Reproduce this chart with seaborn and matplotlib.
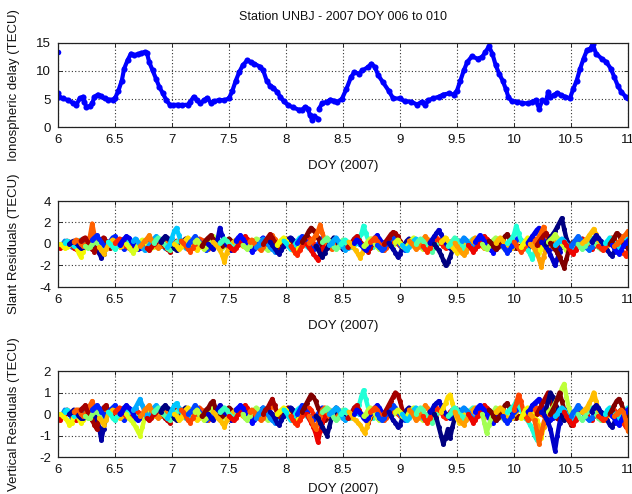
import numpy as np
import pandas as pd
import matplotlib
matplotlib.use("Agg")
import matplotlib.pyplot as plt
import seaborn as sns

# ---------------- data ----------------
TITLE = "Station UNBJ - 2007 DOY 006 to 010"
XLABEL = "DOY (2007)"
YLABELS = ["Ionospheric delay (TECU)", "Slant Residuals (TECU)", "Vertical Residuals (TECU)"]
XTICKS = [6, 6.5, 7, 7.5, 8, 8.5, 9, 9.5, 10, 10.5, 11]
XTICK_LABELS = ["6", "6.5", "7", "7.5", "8", "8.5", "9", "9.5", "10", "10.5", "11"]

# isolated first estimate
tec_first_day = [6.0]
tec_first_val = [13.4]

# ionospheric delay, first continuous stretch (DOY 6.00 - 8.28)
tec_day_a = [6.00, 6.01, 6.04, 6.09, 6.13, 6.16, 6.19, 6.22, 6.23, 6.25, 6.28, 6.30,
             6.32, 6.35, 6.38, 6.41, 6.44, 6.48, 6.50, 6.53, 6.56, 6.58, 6.61, 6.64,
             6.67, 6.70, 6.73, 6.76, 6.78, 6.80, 6.83, 6.86, 6.89, 6.92, 6.95, 6.98,
             7.01, 7.05, 7.09, 7.14, 7.16, 7.19, 7.22, 7.25, 7.28, 7.31, 7.34, 7.37,
             7.41, 7.46, 7.50, 7.53, 7.56, 7.59, 7.62, 7.66, 7.69, 7.72, 7.77, 7.80,
             7.83, 7.86, 7.89, 7.92, 7.95, 7.98, 8.02, 8.06, 8.11, 8.14, 8.17, 8.19,
             8.21, 8.23, 8.25, 8.28]
tec_val_a = [6.0, 5.4, 5.1, 4.8, 4.3, 3.9, 5.1, 5.4, 4.5, 3.6, 3.7, 4.2,
             5.4, 5.8, 5.5, 5.1, 4.9, 4.9, 5.1, 6.5, 8.3, 10.4, 11.9, 13.1,
             12.8, 13.0, 13.2, 13.4, 13.2, 11.6, 10.1, 8.6, 7.1, 6.0, 4.8, 4.0,
             3.9, 4.0, 3.9, 4.0, 4.5, 5.4, 4.8, 4.2, 4.8, 5.2, 4.3, 4.6,
             4.8, 4.8, 5.1, 6.5, 8.3, 9.8, 11.0, 11.9, 11.6, 11.3, 10.8, 10.1,
             8.3, 7.4, 7.0, 6.3, 5.4, 4.6, 3.9, 3.5, 3.1, 3.1, 3.6, 3.3,
             2.1, 1.3, 1.9, 1.5]

# ionospheric delay, second stretch (DOY 8.29 - 11.00)
tec_day_b = [8.29, 8.32, 8.36, 8.39, 8.42, 8.45, 8.49, 8.53, 8.57, 8.60, 8.64, 8.67,
             8.72, 8.75, 8.78, 8.81, 8.85, 8.90, 8.94, 9.00, 9.04, 9.10, 9.15, 9.19,
             9.22, 9.25, 9.29, 9.34, 9.38, 9.43, 9.47, 9.50, 9.53, 9.56, 9.59, 9.63,
             9.68, 9.72, 9.75, 9.78, 9.81, 9.84, 9.87, 9.90, 9.93, 9.95, 9.98, 10.03,
             10.07, 10.12, 10.16, 10.19, 10.22, 10.25, 10.28, 10.30, 10.32, 10.35, 10.38, 10.41,
             10.45, 10.49, 10.52, 10.55, 10.58, 10.61, 10.64, 10.67, 10.69, 10.72, 10.77, 10.81,
             10.85, 10.88, 10.91, 10.94, 10.98, 11.00]
tec_val_b = [3.3, 4.3, 4.5, 4.9, 4.7, 4.5, 5.0, 6.8, 8.9, 9.8, 9.5, 10.1,
             10.7, 11.3, 10.7, 9.2, 8.0, 6.5, 5.1, 5.1, 4.6, 4.5, 4.0, 4.5,
             3.9, 4.8, 5.1, 5.4, 5.8, 6.0, 5.8, 6.5, 8.3, 10.1, 11.6, 12.6,
             12.2, 12.5, 13.4, 14.4, 13.1, 11.0, 9.5, 8.3, 6.7, 5.4, 4.6, 4.5,
             4.3, 4.2, 4.5, 4.8, 3.3, 4.8, 4.5, 6.3, 5.4, 5.7, 6.1, 5.7,
             5.4, 5.1, 6.8, 8.3, 10.4, 12.2, 13.7, 14.0, 14.8, 13.1, 12.2, 11.6,
             10.4, 8.9, 7.4, 6.3, 5.4, 5.1]

# satellite arcs: start epoch (DOY) and PRN; residuals every 0.02 day
ARC_STEP = 0.02
arc_start = [5.96, 6.00, 6.02, 6.06, 6.10, 6.14, 6.20, 6.24, 6.30, 6.36,
             6.44, 6.50, 6.54, 6.60, 6.66, 6.72, 6.78, 6.84, 6.90, 6.96,
             7.02, 7.08, 7.14, 7.20, 7.26, 7.32, 7.36, 7.42, 7.50, 7.56,
             7.62, 7.68, 7.74, 7.80, 7.86, 7.92, 7.98, 8.04, 8.10, 8.14,
             8.18, 8.20, 8.26, 8.32, 8.38, 8.48, 8.54, 8.55, 8.60, 8.68,
             8.74, 8.80, 8.86, 8.90, 8.96, 9.02, 9.08, 9.14, 9.20, 9.26,
             9.30, 9.36, 9.42, 9.48, 9.54, 9.60, 9.66, 9.72, 9.78, 9.84,
             9.90, 9.94, 10.00, 10.06, 10.12, 10.14, 10.18, 10.20, 10.24, 10.28,
             10.30, 10.32, 10.36, 10.44, 10.50, 10.56, 10.60, 10.68, 10.74, 10.80,
             10.84, 10.86, 10.88]
arc_prn = [9, 29, 21, 12, 2, 26, 31, 17, 6, 23,
           13, 28, 4, 20, 10, 25, 30, 15, 1, 11,
           22, 27, 7, 19, 32, 3, 23, 14, 29, 5,
           18, 26, 9, 31, 2, 21, 12, 28, 6, 32,
           29, 26, 1, 16, 10, 13, 30, 23, 4, 19,
           27, 7, 31, 2, 20, 11, 25, 15, 28, 3,
           1, 22, 14, 24, 9, 29, 5, 18, 32, 23,
           6, 13, 27, 21, 4, 24, 26, 31, 3, 1,
           19, 32, 11, 29, 8, 16, 23, 2, 28, 12,
           32, 5, 26]

# slant residuals per arc, 0.1 TECU
slant_res = [
    [2, 1, -1, -2, 0, 3, 2, -1, -3, -2, 0, 2, 3, 1, -1],
    [-3, -4, -2, 1, 3, 2, -1, -4, -5, -3, 0, 2, 4, 3, 1, -2, -4],
    [0, -2, -4, -3, -1, 2, 1, -3, -8, -12, -7, -2, 1, 3, 2],
    [1, 3, 2, 0, -2, -1, 2, 4, 3, 1, -1, -3, -2, 0, 2],
    [0, 2, 3, 1, -2, -4, -3, 0, 3, 5, 4, 1, -3, -8, -13, -9, -3, 2],
    [2, 4, 3, 0, -2, -1, 3, 7, 19, 8, 2, -1, -3, -2, 1],
    [3, 5, 6, 2, -2, -5, -7, -3, 1, 4, 6, 3, -1, -4, -2],
    [-2, -4, -3, 0, 2, 1, -1, -3, -5, -4, -1, 2, 3, 1],
    [4, 6, 8, 5, 2, -1, -3, -1, 3, 6, 7, 4, 0, -3, -5, -2],
    [-3, -6, -9, -5, -1, 2, 4, 2, -1, -3, -2, 1, 3, 2, 0],
    [2, 0, -3, -5, -2, 1, 3, 4, 2, -1, -4, -6, -3, 0],
    [1, 3, 5, 4, 1, -2, -4, -3, 0, 3, 2, -1, -3, -2, 1],
    [-1, 2, 5, 7, 6, 3, 0, -3, -5, -4, -1, 2, 4, 5, 3, 0],
    [0, -3, -6, -8, -5, -1, 2, 4, 3, 0, -2, -4, -3, 0],
    [3, 5, 2, -1, -3, -6, -4, -1, 2, 5, 7, 5, 1, -2, -4],
    [-2, 0, 3, 5, 8, 4, 1, -2, -4, -2, 1, 3, 2, -1],
    [-4, -6, -3, 0, 2, 4, 3, 0, -3, -5, -7, -4, 0, 3],
    [1, 4, 6, 4, 1, -1, -4, -6, -4, -1, 2, 3, 1, -2, -3],
    [2, 5, 7, 6, 3, -1, -4, -6, -3, 0, 3, 5, 4, 2, -1],
    [-3, 0, 6, 12, 15, 8, 2, -2, -4, -3, 0, 2, 1, -1],
    [0, -2, -5, -3, 1, 4, 6, 3, -1, -4, -6, -3, 1, 2],
    [3, 1, -2, -5, -7, -4, 0, 3, 5, 4, 1, -3, -5, -3, 0],
    [-1, 2, 4, 7, 5, 2, -1, -3, -6, -4, 0, 3, 5, 3],
    [2, 4, 1, -2, -5, -3, 0, 4, 7, 5, 1, -2, -4, -2],
    [-2, 1, 4, 6, 8, 5, 2, -1, -3, -2, 0, 3, 5, 3, 0],
    [0, -3, -5, -2, 4, 15, 8, 3, -1, -4, -6, -3, 0, 2, 3],
    [2, 0, -3, -6, -10, -17, -8, -3, 0, 2, 4, 3, 0, -2],
    [1, 3, 5, 3, 0, -2, -4, -2, 1, 4, 6, 4, 1, -2],
    [-2, -4, -6, -4, -1, 2, 5, 7, 5, 2, -1, -3, -2, 0],
    [3, 6, 8, 5, 2, -1, -4, -7, -5, -2, 1, 4, 6, 3, 0],
    [-1, -3, -5, -2, 1, 3, 5, 4, 1, -2, -4, -6, -3, 0],
    [2, 4, 1, -2, -4, -6, -3, 0, 3, 6, 8, 5, 2, -1],
    [-3, -1, 2, 5, 3, 0, -3, -5, -7, -4, -1, 2, 4, 2],
    [0, 3, 6, 9, 6, 2, -1, -4, -2, 1, 3, 5, 3, 0],
    [2, -1, -4, -7, -9, -6, -2, 1, 4, 6, 4, 1, -2, -4],
    [-1, 2, 4, 6, 3, 0, -3, -6, -8, -5, -1, 2, 3, 1],
    [3, 1, -2, -5, -3, 0, 3, 6, 4, 1, -2, -4, -2, 0],
    [-2, -5, -8, -10, -6, -2, 1, 4, 6, 4, 1, -2, -4, -2],
    [1, 4, 7, 5, 2, -1, -4, -6, -3, 0, 3, 6, 4, 1],
    [2, 5, 8, 12, 15, 13, 10, 6, 2, -2, -5, -3, 0, 2],
    [0, -3, -6, -9, -12, -15, -10, -5, -1, 2, 4, 2, -1, -3],
    [1, 3, 5, 8, 12, 18, 10, 4, 0, -3, -5, -2, 1, 3],
    [-2, -5, -9, -12, -8, -4, 0, 3, 6, 4, 1, -2, -5, -3],
    [2, 4, 6, 3, 0, -3, -5, -3, 1, 4, 2, -1, -3, -1],
    [-1, 1, 4, 6, 3, 0, -3, -6, -4, -1, 2, 5, 3, 0],
    [0, 2, 4, 2, -1, -3, -1, 2, 5, 9, 17, 10, 4, 0, -3],
    [-3, -1, 2, 5, 7, 4, 1, -2, -5, -7, -4, 0, 3, 1],
    [2, 0, -3, -6, -9, -13, -8, -4, 0, 3, 5, 3, 1, -2],
    [1, 4, 2, -1, -4, -6, -3, 0, 3, 6, 8, 5, 2, -1],
    [-2, 0, 3, 5, 3, 0, -3, -5, -3, 0, 2, 4, 2, -1],
    [2, 4, 6, 3, 0, -3, -6, -4, -1, 2, 5, 3, 0, -2],
    [-1, -3, -6, -4, 0, 3, 6, 8, 5, 2, -1, -4, -6, -3],
    [0, 3, 6, 9, 11, 10, 7, 3, -1, -4, -2, 1, 3, 1],
    [1, -2, -5, -8, -12, -9, -4, 0, 3, 5, 3, 0, -3, -2],
    [2, 4, 1, -2, -4, -2, 1, 4, 6, 3, 0, -3, -5, -2],
    [-1, -4, -6, -3, 0, 3, 5, 3, 0, -3, -5, -2, 1, 3],
    [3, 1, -2, -5, -3, 0, 4, 7, 5, 2, -1, -3, -1, 1],
    [0, 3, 5, 3, 0, -3, -5, -7, -4, -1, 2, 4, 2, 0],
    [-2, -5, -7, -4, 0, 3, 6, 4, 1, -2, -4, -2, 1, 3],
    [1, 4, 7, 10, 13, 9, 5, 1, -2, -4, -2, 1, 3, 1],
    [0, -3, -6, -10, -15, -20, -17, -12, -6, -2, 1, 3, 1, -1],
    [2, 4, 6, 3, 0, -3, -6, -8, -5, -2, 1, 3, 2, 0],
    [-2, 0, 3, 6, 4, 1, -2, -5, -3, 0, 3, 5, 3, 0],
    [1, -2, -5, -8, -10, -7, -3, 1, 4, 6, 4, 1, -2, -4],
    [3, 6, 4, 1, -2, -5, -3, 0, 3, 6, 4, 1, -2, -1],
    [-1, -4, -7, -5, -2, 1, 4, 7, 5, 2, -1, -4, -2, 0],
    [2, 5, 8, 6, 3, 0, -3, -6, -8, -5, -2, 1, 3, 1],
    [0, -3, -5, -2, 1, 4, 6, 3, 0, -3, -5, -3, 0, 2],
    [3, 1, -2, -5, -3, 1, 4, 7, 9, 6, 2, -1, -4, -2],
    [1, 4, 6, 3, 0, -3, -6, -4, -1, 2, 5, 3, 0, -2],
    [-2, -5, -8, -6, -2, 1, 4, 6, 4, 1, -2, -4, -2, 0],
    [1, 3, 5, 9, 17, 10, 4, 0, -3, -6, -9, -14, -8, -3, 0],
    [2, -1, -4, -7, -5, -2, 1, 4, 7, 5, 2, -1, -3, -1],
    [-3, 0, 3, 6, 4, 1, -2, -5, -8, -5, -1, 2, 4, 2],
    [1, 4, 7, 10, 13, 15, 10, 5, 1, -2, -5, -3, 0, 2],
    [0, -2, -5, -9, -14, -21, -12, -5, -1, 2, 4, 2, 0],
    [2, 4, 7, 11, 16, 9, 4, 0, -3, -5, -3, 0, 2],
    [-1, 2, 5, 8, 10, 7, 3, -1, -4, -7, -4, 0, 3],
    [2, 0, -3, -6, -10, -15, -20, -14, -7, -2, 1, 3, 1],
    [0, 3, 6, 9, 12, 16, 20, 24, 14, 5, 0, -3, -1],
    [2, 4, 6, 9, 6, 3, 0, -3, -6, -4, -1, 2, 3, 1],
    [1, -2, -5, -8, -12, -17, -22, -14, -6, -1, 2, 3],
    [-1, 1, 3, 5, 3, 0, -3, -5, -7, -4, 0, 3, 5, 2],
    [2, -1, -4, -7, -9, -6, -2, 2, 5, 3, 0, -3, -5, -2],
    [-2, 1, 4, 7, 5, 2, -1, -4, -6, -3, 0, 3, 5, 2],
    [0, -3, -5, -2, 1, 4, 6, 3, 0, -3, -5, -3, 0],
    [1, 3, 5, 8, 11, 14, 9, 4, 0, -3, -5, -2, 1],
    [2, 5, 8, 6, 3, 0, -3, -6, -9, -11, -7, -3, 1, 3],
    [-2, -4, -6, -3, 0, 3, 6, 4, 1, -2, -5, -8, -11, -6, -2],
    [1, 3, 6, 4, 1, -2, -4, -2, 1, 3, 5, 2],
    [0, 3, 6, 10, 8, 4, 1, -2, -4, -2, 1],
    [-1, -4, -7, -9, -6, -2, 1, 3, 5, 3, 0, -2],
    [-2, 0, 2, 4, 7, 9, 12, 8, 4, 2, 1],
]

# vertical residuals per arc, 0.1 TECU
vert_res = [
    [1, 0, -1, -1, 0, 2, 1, 0, -2, -1, 0, 1, 2, 1, 0],
    [-2, -3, -1, 0, 2, 1, -1, -2, -3, -2, 0, 1, 2, 2, 0, -1, -2],
    [0, -1, -2, -3, -5, -4, -1, 1, -2, -4, -3, -1, 1, 2, 1],
    [1, 2, 1, 0, -1, 0, 1, 2, 2, 1, 0, -2, -1, 0, 1],
    [0, 1, 2, 1, -1, -2, -2, 0, 2, 3, 2, 0, -3, -6, -12, -7, -2, 1],
    [1, 2, 2, 0, -1, 0, 2, 4, 6, 3, 1, 0, -2, -1, 1],
    [2, 3, 4, 1, -1, -3, -5, -7, -3, 1, 3, 4, 2, 0, -1],
    [-1, -2, -2, 0, 1, 1, 0, -2, -3, -2, 0, 1, 2, 1],
    [2, 3, 4, 3, 1, 0, -2, 0, 2, 3, 4, 2, 0, -2, -3, -1],
    [-2, -3, -5, -3, 0, 1, 2, 1, 0, -2, -1, 1, 2, 1, 0],
    [1, 0, -2, -3, -1, 1, 2, 3, 2, 0, -2, -3, -2, 0],
    [1, 2, 3, 2, 0, -1, -2, -2, 0, 2, 1, 0, -2, -1, 1],
    [0, 1, 3, 4, 3, 2, 0, -2, -3, -2, 0, 1, 2, 3, 2, 0],
    [0, -2, -3, -4, -6, -8, -10, -6, -2, 0, 2, 1, -1, 0],
    [2, 3, 5, 7, 4, 1, -2, -1, 1, 3, 4, 3, 1, -1, -2],
    [-1, 0, 2, 3, 4, 2, 0, -1, -2, -1, 0, 2, 1, 0],
    [-2, -3, -2, 0, 1, 2, 2, 0, -2, -3, -4, -2, 0, 2],
    [1, 2, 3, 2, 0, -1, -2, -3, -2, 0, 1, 2, 1, -1, -2],
    [1, 3, 4, 3, 2, 0, -2, -3, -2, 0, 2, 3, 2, 1, 0],
    [-2, 0, 2, 4, 5, 3, 1, -1, -2, -1, 0, 1, 1, 0],
    [0, -1, -3, -2, 0, 2, 3, 2, 0, -2, -3, -2, 0, 1],
    [2, 1, -1, -3, -4, -2, 0, 2, 3, 2, 0, -2, -3, -2, 0],
    [0, 1, 2, 4, 3, 1, 0, -2, -3, -2, 0, 2, 3, 2],
    [1, 2, 0, -1, -3, -2, 0, 2, 4, 3, 1, -1, -2, -1],
    [-1, 0, 2, 3, 5, 6, 3, 0, -2, -1, 0, 2, 3, 2, 0],
    [0, -2, -3, -1, 2, 4, 3, 1, 0, -2, -3, -2, 0, 1, 2],
    [1, 0, -2, -3, -4, -6, -3, -1, 0, 1, 2, 2, 0, -1],
    [1, 2, 3, 2, 0, -1, -2, -1, 1, 2, 3, 2, 1, -1],
    [-1, -2, -3, -2, 0, 1, 3, 4, 3, 1, 0, -2, -1, 0],
    [2, 3, 4, 3, 1, 0, -2, -4, -3, -1, 1, 2, 3, 2, 0],
    [0, -2, -3, -1, 1, 2, 3, 2, 1, -1, -2, -3, -2, 0],
    [1, 2, 1, -1, -2, -3, -2, 0, 2, 3, 4, 3, 1, 0],
    [-2, 0, 1, 3, 2, 0, -2, -3, -4, -2, 0, 1, 2, 1],
    [0, 2, 3, 5, 7, 4, 1, -1, -2, 0, 2, 3, 2, 0],
    [1, 0, -2, -4, -5, -3, -1, 1, 2, 3, 2, 0, -1, -2],
    [0, 1, 2, 3, 2, 0, -2, -3, -4, -3, -1, 1, 2, 1],
    [2, 1, -1, -3, -2, 0, 2, 3, 2, 1, -1, -2, -1, 0],
    [-1, -3, -4, -5, -3, -1, 1, 2, 3, 2, 0, -1, -2, -1],
    [0, 2, 4, 3, 1, -1, -2, -3, -2, 0, 2, 3, 2, 0],
    [1, 3, 5, 7, 9, 8, 6, 3, 1, -1, -3, -2, 0, 1],
    [0, -2, -4, -6, -9, -13, -8, -4, -1, 1, 2, 1, 0, -2],
    [-1, -3, -5, -7, -4, -1, 2, 3, 1, -1, -2, -1, 0, 1],
    [-1, -2, -4, -6, -8, -10, -6, -2, 1, 3, 2, 0, -2, -1],
    [1, 2, 3, 2, 0, -2, -3, -2, 0, 2, 1, 0, -2, -1],
    [0, 1, 2, 3, 2, 0, -2, -3, -2, 0, 1, 3, 2, 0],
    [0, 1, 2, 1, 0, -1, 0, 2, 4, 8, 11, 7, 3, 0, -2],
    [-2, -1, 1, 3, 4, 2, 0, -1, -3, -4, -2, 0, 2, 1],
    [1, 0, -2, -3, -4, -5, -7, -9, -6, -2, 0, 2, 1, 0],
    [0, 2, 1, 0, -2, -3, -2, 0, 2, 3, 4, 3, 1, 0],
    [-1, 0, 2, 3, 2, 0, -2, -3, -2, 0, 1, 2, 1, 0],
    [1, 2, 3, 2, 0, -2, -3, -2, 0, 1, 3, 2, 0, -1],
    [0, -2, -3, -2, 0, 2, 3, 4, 3, 1, 0, -2, -3, -2],
    [0, 2, 4, 6, 8, 10, 9, 6, 2, -1, -2, 0, 2, 1],
    [1, -1, -3, -4, -6, -5, -2, 0, 2, 3, 2, 0, -2, -1],
    [1, 2, 1, -1, -2, -1, 1, 2, 3, 2, 0, -2, -3, -1],
    [0, -2, -3, -2, 0, 2, 3, 2, 0, -2, -3, -1, 1, 2],
    [2, 1, -1, -3, -2, 0, 2, 4, 3, 1, 0, -2, -1, 1],
    [0, 2, 3, 2, 0, -2, -3, -4, -2, 0, 1, 2, 1, 0],
    [-1, -3, -4, -2, 0, 2, 3, 2, 1, -1, -2, -1, 1, 2],
    [1, 2, 4, 5, 6, 4, 2, 0, -1, -2, -1, 1, 2, 1],
    [0, -2, -6, -10, -14, -11, -7, -11, -6, -2, 0, 2, 1, 0],
    [1, 3, 5, 8, 9, 5, 1, -2, -4, -2, 0, 2, 1, 0],
    [-1, 0, 2, 3, 2, 1, -1, -3, -2, 0, 2, 3, 2, 0],
    [1, -1, -3, -4, -5, -3, -1, 1, 2, 3, 2, 0, -1, -2],
    [2, 3, 2, 1, -1, -3, -2, 0, 2, 3, 2, 1, -1, 0],
    [0, -2, -4, -3, -1, 1, 2, 4, 3, 1, 0, -2, -1, 0],
    [1, 3, 4, 3, 2, 0, -2, -3, -4, -3, -1, 1, 2, 1],
    [0, -4, -9, -5, -2, 1, 3, 2, 0, -2, -3, -2, 0, 1],
    [2, 1, -1, -3, -2, 0, 2, 4, 5, 3, 1, -1, -2, -1],
    [1, 2, 3, 2, 0, -2, -3, -2, 0, 1, 3, 2, 0, -1],
    [-1, -3, -4, -3, -1, 1, 2, 3, 2, 1, -1, -2, -1, 0],
    [1, 2, 3, 4, 6, 4, 2, 0, -2, -3, -5, -7, -10, -12, -6],
    [2, 5, 9, 6, 2, -1, -3, -2, 0, 2, 3, 2, 0, -1],
    [-2, 0, 2, 3, 2, 0, -1, -3, -5, -11, -6, -1, 2, 1],
    [1, 2, 4, 5, 6, 7, 5, 2, 0, -1, -3, -2, 0, 1],
    [0, -1, -3, -5, -7, -9, -6, -3, 0, 1, 2, 1, 0],
    [-3, -8, -14, -9, -4, -1, 1, 2, 1, 0, -2, -1, 0],
    [0, 2, 4, 6, 8, 10, 7, 3, 0, -2, -3, -1, 1],
    [1, 0, -2, -4, -7, -12, -17, -10, -4, -1, 1, 2, 1],
    [2, 6, 10, 8, 5, 3, 1, -1, -3, -2, 0, 1, 0],
    [1, 2, 3, 5, 7, 9, 12, 14, 8, 3, 0, -2, -1, 0],
    [0, 2, 4, 7, 10, 6, 2, -1, -3, -5, -3, 0, 1],
    [-1, 0, 2, 3, 2, 0, -2, -4, -3, -1, 1, 2, 1, 0],
    [1, -1, -3, -4, -5, -3, -1, 1, 2, 1, 0, -2, -3, -1],
    [-1, 1, 2, 4, 3, 1, -1, -2, -3, -2, 0, 2, 3, 1],
    [0, -2, -3, -1, 1, 2, 3, 2, 0, -2, -3, -2, 0, 1],
    [1, 2, 3, 5, 7, 10, 6, 2, 0, -2, -3, -1, 1],
    [1, 3, 4, 3, 1, 0, -2, -3, -5, -6, -4, -1, 1, 2],
    [-1, -2, -3, -2, 0, 2, 3, 2, 0, -1, -3, -4, -6, -3, -1],
    [0, 2, 3, 2, 0, -1, -2, -1, 1, 2, 3, 1],
    [0, 2, 4, 6, 7, 5, 2, 0, -2, -1, 0],
    [-1, -2, -4, -5, -3, -1, 1, 2, 3, 2, 0, -1],
    [-1, 0, 1, 2, 1, -3, -8, -6],
]

# ---------------- tables ----------------
def arc_table(values):
    rows = []
    for k, (t0, prn, res) in enumerate(zip(arc_start, arc_prn, values)):
        for i, r in enumerate(res):
            rows.append((f"arc{k:02d}", prn, t0 + ARC_STEP * i, r / 10.0))
    return pd.DataFrame(rows, columns=["arc", "prn", "doy", "res"])

tec = pd.concat([
    pd.DataFrame({"doy": tec_day_a, "tec": tec_val_a, "seg": "a"}),
    pd.DataFrame({"doy": tec_day_b, "tec": tec_val_b, "seg": "b"}),
], ignore_index=True)
slant = arc_table(slant_res)
vert = arc_table(vert_res)

jet = plt.get_cmap("jet")
arc_colors = {f"arc{k:02d}": jet((p - 1) / 31.0) for k, p in enumerate(arc_prn)}

# ---------------- style ----------------
sns.set_theme(style="white")
plt.rcParams["font.family"] = ["Liberation Sans", "DejaVu Sans"]
plt.rcParams["axes.edgecolor"] = "#222222"
plt.rcParams["axes.linewidth"] = 0.9

W, H = 632, 494
fig = plt.figure(figsize=(W / 100, H / 100), dpi=100)
ax_px = [(58, 43, 570, 84), (58, 201, 570, 86), (58, 371, 570, 86)]
axes = [fig.add_axes([x / W, 1 - (y + h) / H, w / W, h / H]) for x, y, w, h in ax_px]
ax_top, ax_mid, ax_bot = axes

BLUE = (0.0, 0.0, 1.0)
sns.lineplot(data=tec, x="doy", y="tec", units="seg", estimator=None, sort=False,
             color=BLUE, lw=3.0, marker="o", markersize=4.4, markeredgewidth=0,
             ax=ax_top, legend=False)
sns.scatterplot(x=tec_first_day, y=tec_first_val, color=BLUE, s=16, linewidth=0,
                ax=ax_top, legend=False)

for ax, df in ((ax_mid, slant), (ax_bot, vert)):
    sns.lineplot(data=df, x="doy", y="res", hue="arc", palette=arc_colors,
                 estimator=None, sort=False, lw=3.2, marker="o", markersize=3.6,
                 markeredgewidth=0, legend=False, ax=ax,
                 solid_capstyle="round", solid_joinstyle="round")

ylims = [(0, 15), (-4, 4), (-2, 2)]
yticks = [[0, 5, 10, 15], [-4, -2, 0, 2, 4], [-2, -1, 0, 1, 2]]
xlab_gap = [33, 33, 26]
for ax, yl, yt, lab, gap, (_, _, _, h) in zip(axes, ylims, yticks, YLABELS, xlab_gap, ax_px):
    ax.set_xlim(6, 11)
    ax.set_ylim(*yl)
    ax.set_xticks(XTICKS)
    ax.set_xticklabels(XTICK_LABELS)
    ax.set_yticks(yt)
    ax.set_yticklabels([str(v) for v in yt])
    ax.grid(True, color="#333333", linestyle=(0, (1, 2)), linewidth=0.8)
    ax.set_axisbelow(True)
    ax.tick_params(direction="in", length=3, width=0.6, labelsize=9.5,
                   colors="#111111", pad=5, top=True, right=True, left=True, bottom=True)
    for s in ax.spines.values():
        s.set_visible(True)
    ax.set_xlabel(XLABEL, fontsize=9.5, color="#111111")
    ax.set_ylabel(lab, fontsize=9.5, color="#111111")
    ax.xaxis.set_label_coords(0.5, -gap / h)
    ax.yaxis.set_label_coords(-38 / 570, 0.5)

fig.text((58 + 285) / W, 1 - 17 / H, TITLE, ha="center", va="center",
         fontsize=9, color="#111111")

fig.savefig("out.png", dpi=100)
